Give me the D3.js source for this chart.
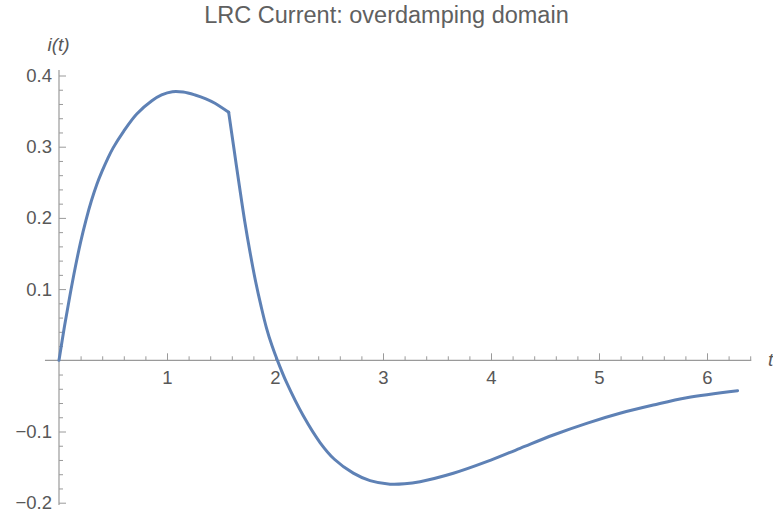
<!DOCTYPE html>
<html>
<head>
<meta charset="utf-8">
<script src="https://cdn.jsdelivr.net/npm/d3@7"></script>
<style>
  html, body { margin: 0; padding: 0; background: #fff; }
  svg { display: block; font-family: "Liberation Sans", Arial, sans-serif; }
</style>
</head>
<body>
<svg id="chart" width="773" height="514"></svg>
<script>
// ---- data ----
const title = "LRC Current: overdamping domain";
const xLabel = "t";
const yLabel = "i(t)";

// segment 1: source on, 0 .. pi/2
const riseT = [0, 0.05, 0.10, 0.15, 0.20, 0.25, 0.30, 0.35, 0.40, 0.45, 0.50, 0.60, 0.72, 0.86, 0.95, 1.05, 1.15, 1.26, 1.36, 1.444, 1.571];
const riseI = [0, 0.047, 0.090, 0.130, 0.166, 0.197, 0.224, 0.247, 0.266, 0.283, 0.298, 0.322, 0.346, 0.3645, 0.3727, 0.3773, 0.3768, 0.3726, 0.3672, 0.361, 0.3483];

// segment 2: free decay, pi/2 .. 2 pi
const decayT = [1.571, 1.620, 1.671, 1.720, 1.771, 1.820, 1.871, 1.920, 1.971, 2.022, 2.108, 2.262, 2.417, 2.550, 2.725, 2.880, 3.065, 3.200, 3.343, 3.651, 3.960, 4.269, 4.577, 4.886, 5.194, 5.503, 5.812, 6.283];
const decayI = [0.3483, 0.297, 0.244, 0.195, 0.150, 0.111, 0.076, 0.046, 0.021, 0, -0.0315, -0.078, -0.1155, -0.139, -0.1585, -0.169, -0.1740, -0.1735, -0.1705, -0.1587, -0.1424, -0.1236, -0.1049, -0.0885, -0.0744, -0.0628, -0.0525, -0.0427];

const xMajorTicks = [1, 2, 3, 4, 5, 6];
const xMajorLabels = ["1", "2", "3", "4", "5", "6"];
const xMinorTicks = [0.2, 0.4, 0.6, 0.8, 1.2, 1.4, 1.6, 1.8, 2.2, 2.4, 2.6, 2.8, 3.2, 3.4, 3.6, 3.8, 4.2, 4.4, 4.6, 4.8, 5.2, 5.4, 5.6, 5.8, 6.2, 6.4];
const yMajorTicks = [-0.2, -0.1, 0.1, 0.2, 0.3, 0.4];
const yMajorLabels = ["\u22120.2", "\u22120.1", "0.1", "0.2", "0.3", "0.4"];
const yMinorTicks = [-0.18, -0.16, -0.14, -0.12, -0.08, -0.06, -0.04, -0.02, 0.02, 0.04, 0.06, 0.08, 0.12, 0.14, 0.16, 0.18, 0.22, 0.24, 0.26, 0.28, 0.32, 0.34, 0.36, 0.38];

const xAxisRange = [-0.13, 6.41];
const yAxisRange = [-0.2033, 0.4077];

// ---- drawing ----
const svg = d3.select("#chart");
const x = d3.scaleLinear().domain([0, 6]).range([59, 707]);
const y = d3.scaleLinear().domain([0, 0.4]).range([360.3, 75.5]);

const axisColor = "#9a9a9a";
const labelColor = "#585858";

// axis lines
svg.append("line")
  .attr("x1", x(xAxisRange[0])).attr("x2", x(xAxisRange[1]))
  .attr("y1", y(0)).attr("y2", y(0))
  .attr("stroke", axisColor).attr("stroke-width", 1.2);
svg.append("line")
  .attr("x1", x(0)).attr("x2", x(0))
  .attr("y1", y(yAxisRange[0])).attr("y2", y(yAxisRange[1]))
  .attr("stroke", axisColor).attr("stroke-width", 1.2);

// x axis ticks
const gx = svg.append("g").attr("transform", `translate(0,${y(0)})`);
gx.call(d3.axisBottom(x).tickValues(xMinorTicks).tickSizeInner(-4).tickSizeOuter(0).tickFormat(""));
gx.call(g => g.selectAll(".domain").remove());
const gx2 = svg.append("g").attr("transform", `translate(0,${y(0)})`);
gx2.call(d3.axisBottom(x).tickValues(xMajorTicks).tickSizeInner(-7).tickSizeOuter(0).tickPadding(11)
  .tickFormat((d, i) => xMajorLabels[i]));
gx2.call(g => g.selectAll(".domain").remove());

// y axis ticks
const gy = svg.append("g").attr("transform", `translate(${x(0)},0)`);
gy.call(d3.axisLeft(y).tickValues(yMinorTicks).tickSizeInner(-4).tickSizeOuter(0).tickFormat(""));
gy.call(g => g.selectAll(".domain").remove());
const gy2 = svg.append("g").attr("transform", `translate(${x(0)},0)`);
gy2.call(d3.axisLeft(y).tickValues(yMajorTicks).tickSizeInner(-7).tickSizeOuter(0).tickPadding(7)
  .tickFormat((d, i) => yMajorLabels[i]));
gy2.call(g => g.selectAll(".domain").remove());

svg.selectAll(".tick line").attr("stroke", axisColor).attr("stroke-width", 1);
svg.selectAll(".tick text")
  .attr("fill", labelColor)
  .style("font-size", "18.5px")
  .style("font-family", "'Liberation Sans', Arial, sans-serif");

// curve
const line = d3.line().x(d => x(d[0])).y(d => y(d[1])).curve(d3.curveCatmullRom.alpha(0.5));
const seg1 = riseT.map((t, i) => [t, riseI[i]]);
const seg2 = decayT.map((t, i) => [t, decayI[i]]);
[seg1, seg2].forEach(seg => {
  svg.append("path")
    .datum(seg)
    .attr("d", line)
    .attr("fill", "none")
    .attr("stroke", "#5E81B5")
    .attr("stroke-width", 3)
    .attr("stroke-linejoin", "round")
    .attr("stroke-linecap", "round");
});

// title
svg.append("text")
  .attr("x", 386.5).attr("y", 23)
  .attr("text-anchor", "middle")
  .attr("fill", "#606060")
  .style("font-size", "23.5px")
  .text(title);

// axis labels
svg.append("text")
  .attr("x", 58.5).attr("y", 51)
  .attr("text-anchor", "middle")
  .attr("fill", labelColor)
  .style("font-size", "19px")
  .style("font-style", "italic")
  .text(yLabel);
svg.append("text")
  .attr("x", 768).attr("y", y(0) + 6)
  .attr("text-anchor", "start")
  .attr("fill", labelColor)
  .style("font-size", "19px")
  .style("font-style", "italic")
  .text(xLabel);
</script>
</body>
</html>
